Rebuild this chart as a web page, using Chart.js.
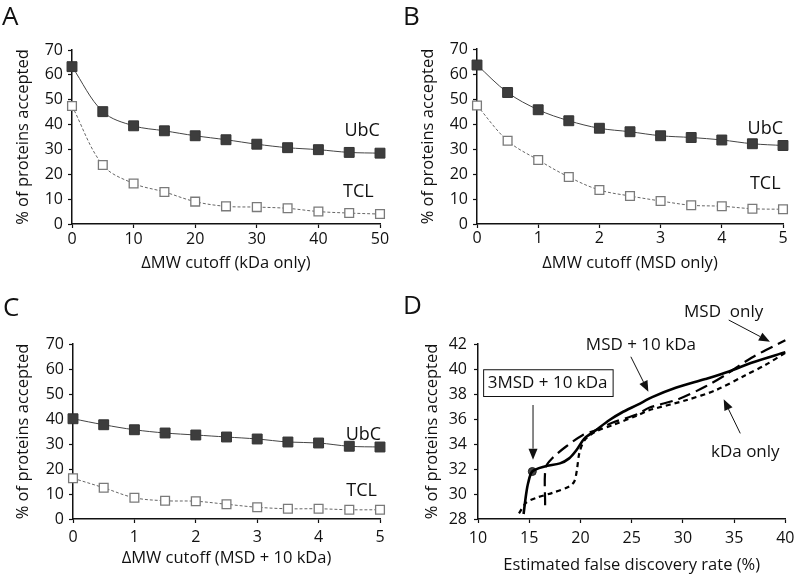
<!DOCTYPE html>
<html>
<head>
<meta charset="utf-8">
<script src="https://cdn.jsdelivr.net/npm/chart.js@4/dist/chart.umd.min.js"></script>
<style>
  body { margin: 0; background: #fff; }
  .panel { position: absolute; width: 400px; height: 290px; }
</style>
</head>
<body>
<div class="panel" style="left:0;top:0"><canvas id="chartA" width="400" height="290"></canvas></div>
<div class="panel" style="left:400px;top:0"><canvas id="chartB" width="400" height="290"></canvas></div>
<div class="panel" style="left:0;top:290px"><canvas id="chartC" width="400" height="290"></canvas></div>
<div class="panel" style="left:400px;top:290px"><canvas id="chartD" width="400" height="290"></canvas></div>
<script>
// ── Data ───────────────────────────────────────────────────────
const cutoffKda = [0, 5, 10, 15, 20, 25, 30, 35, 40, 45, 50];
const cutoffMsd = [0, 0.5, 1, 1.5, 2, 2.5, 3, 3.5, 4, 4.5, 5];

const ubcKdaOnly = [63.3, 45.2, 39.5, 37.5, 35.5, 33.9, 32.1, 30.7, 29.9, 28.8, 28.5];
const tclKdaOnly = [47.5, 23.7, 16.3, 12.9, 9.0, 7.1, 6.8, 6.3, 5.0, 4.4, 4.0];

const ubcMsdOnly = [63.6, 52.6, 45.7, 41.3, 38.3, 36.9, 35.3, 34.6, 33.6, 32.1, 31.4];
const tclMsdOnly = [47.4, 33.3, 25.6, 18.8, 13.6, 11.2, 9.2, 7.5, 7.1, 6.1, 5.9];

const ubcMsd10 = [40.1, 37.7, 35.7, 34.4, 33.6, 32.8, 32.0, 30.8, 30.4, 29.1, 28.8];
const tclMsd10 = [16.3, 12.5, 8.5, 7.3, 7.1, 5.9, 4.7, 4.1, 4.1, 3.7, 3.7];

// panel D: FDR (%) vs % accepted
const fdrMsd10 = [14.45, 14.7, 14.9, 15.3, 16.5, 18.0, 18.9, 19.6, 20.4, 21.5, 22.8, 24.0, 25.6, 27.0, 29.3, 32.2, 34.5, 36.7, 40];
const accMsd10 = [28.4, 30.0, 30.9, 31.8, 32.2, 32.45, 32.85, 33.5, 34.45, 35.1, 35.9, 36.5, 37.15, 37.75, 38.5, 39.2, 39.8, 40.5, 41.35];

const fdrMsdOnly = [16.55, 16.6, 17.3, 18.6, 20.2, 21.5, 23.1, 25.6, 26.7, 29.6, 32.2, 34.1, 36.7, 40];
const accMsdOnly = [29.1, 32.1, 32.9, 33.8, 34.7, 35.1, 35.7, 36.4, 36.9, 37.6, 38.6, 39.5, 40.9, 42.3];

const fdrKdaOnly = [14.0, 14.7, 15.7, 17.3, 18.9, 19.4, 19.65, 19.9, 20.4, 21.5, 23.1, 25.6, 26.7, 30.3, 33.2, 36.1, 38.0, 40];
const accKdaOnly = [28.45, 29.3, 29.7, 30.1, 30.6, 31.0, 31.9, 33.3, 34.3, 35.0, 35.5, 36.3, 36.7, 37.5, 38.3, 39.5, 40.3, 41.3];

const fdr3Msd = [15.3];
const acc3Msd = [31.8];

const FONT = "'Open Sans', sans-serif";

// ── Annotation plugin (panel letters, labels, arrows, boxes) ───
const notesPlugin = {
  id: 'notes',
  afterDraw(chart, args, o) {
    const { ctx } = chart;
    const sx = chart.scales.x, sy = chart.scales.y;
    const px = v => sx.getPixelForValue(v), py = v => sy.getPixelForValue(v);
    ctx.save();
    ctx.fillStyle = '#111';
    ctx.strokeStyle = '#111';
    ctx.font = `26px ${FONT}`;
    ctx.textAlign = 'left';
    ctx.textBaseline = 'alphabetic';
    ctx.fillText(o.letter, o.letterPos[0], o.letterPos[1]);

    (o.boxes || []).forEach(b => {
      const x1 = px(b.x1), x2 = px(b.x2), y1 = py(b.y1), y2 = py(b.y2);
      ctx.fillStyle = '#fff';
      ctx.fillRect(x1, y1, x2 - x1, y2 - y1);
      ctx.lineWidth = 1;
      ctx.strokeRect(x1 + 0.5, y1 + 0.5, x2 - x1, y2 - y1);
    });

    ctx.fillStyle = '#111';
    ctx.textAlign = 'center';
    ctx.textBaseline = 'middle';
    (o.texts || []).forEach(t => {
      ctx.font = `${t.size || 18}px ${FONT}`;
      ctx.fillText(t.text, px(t.x), py(t.y));
    });

    (o.arrows || []).forEach(a => {
      const x1 = px(a.x1), y1 = py(a.y1), x2 = px(a.x2), y2 = py(a.y2);
      const ang = Math.atan2(y2 - y1, x2 - x1);
      const hl = 11, hw = 4.5;
      const bx = x2 - hl * Math.cos(ang), by = y2 - hl * Math.sin(ang);
      ctx.lineWidth = 1;
      ctx.beginPath(); ctx.moveTo(x1, y1); ctx.lineTo(bx, by); ctx.stroke();
      ctx.beginPath();
      ctx.moveTo(x2, y2);
      ctx.lineTo(bx + hw * Math.sin(ang), by - hw * Math.cos(ang));
      ctx.lineTo(bx - hw * Math.sin(ang), by + hw * Math.cos(ang));
      ctx.closePath(); ctx.fill();
    });
    ctx.restore();
  }
};
Chart.register(notesPlugin);

// ── Helpers ────────────────────────────────────────────────────
function axis(min, max, step, title, box, tickPad, titlePad, isX) {
  return {
    type: 'linear', min, max,
    ticks: { stepSize: step, padding: tickPad, color: '#111', font: { family: FONT, size: 16 } },
    grid: { display: true, drawOnChartArea: false, drawTicks: true, tickLength: 4, color: '#111', tickWidth: 1.2 },
    border: { display: true, color: '#111', width: 1.5 },
    title: { display: true, text: title, color: '#111', font: { family: FONT, size: 16.5 }, padding: titlePad },
    afterFit: s => { if (isX) s.height = box; else s.width = box; }
  };
}

function ubcSet(xs, ys) {
  return {
    label: 'UbC', data: xs.map((x, i) => ({ x, y: ys[i] })), clip: false,
    borderColor: '#444', borderWidth: 1, tension: 0.35,
    pointStyle: 'rect', pointRadius: 7, pointBackgroundColor: '#3d3d3d',
    pointBorderColor: '#333', pointBorderWidth: 1
  };
}
function tclSet(xs, ys) {
  return {
    label: 'TCL', data: xs.map((x, i) => ({ x, y: ys[i] })), clip: false,
    borderColor: '#666', borderWidth: 1, borderDash: [3, 2], tension: 0.35,
    pointStyle: 'rect', pointRadius: 6.2, pointBackgroundColor: '#fff',
    pointBorderColor: '#7a7a7a', pointBorderWidth: 1.3
  };
}

function cutoffChart(id, xs, ubc, tcl, xMax, xStep, xTitle, area, notes) {
  return new Chart(document.getElementById(id), {
    type: 'line',
    data: { datasets: [tclSet(xs, tcl), ubcSet(xs, ubc)] },
    options: {
      responsive: false, animation: false,
      layout: { padding: { left: 0, top: area.top, right: 400 - area.right, bottom: 0 } },
      plugins: { legend: { display: false }, tooltip: { enabled: false }, notes },
      scales: {
        x: axis(0, xMax, xStep, xTitle, 290 - area.bottom, area.xTickPad, { top: 2, bottom: area.xTitlePad }, true),
        y: axis(0, 70, 10, '% of proteins accepted', area.left, 5, { top: area.yTitlePad, bottom: 2 }, false)
      }
    }
  });
}

// ── Panels A–C ─────────────────────────────────────────────────
cutoffChart('chartA', cutoffKda, ubcKdaOnly, tclKdaOnly, 50, 10, '\u0394MW cutoff (kDa only)',
  { left: 72, right: 380, top: 50, bottom: 224, xTickPad: 1.5, xTitlePad: 17, yTitlePad: 13 },
  { letter: 'A', letterPos: [2, 25],
    texts: [{ text: 'UbC', x: 47.1, y: 37.6 }, { text: 'TCL', x: 46.5, y: 12.9 }] });

cutoffChart('chartB', cutoffMsd, ubcMsdOnly, tclMsdOnly, 5, 1, '\u0394MW cutoff (MSD only)',
  { left: 77, right: 383, top: 49, bottom: 224, xTickPad: 1, xTitlePad: 17, yTitlePad: 18 },
  { letter: 'B', letterPos: [3, 25],
    texts: [{ text: 'UbC', x: 4.71, y: 38.2 }, { text: 'TCL', x: 4.71, y: 15.9 }] });

cutoffChart('chartC', cutoffMsd, ubcMsd10, tclMsd10, 5, 1, '\u0394MW cutoff (MSD + 10 kDa)',
  { left: 73, right: 380, top: 54, bottom: 229, xTickPad: 5, xTitlePad: 12, yTitlePad: 13 },
  { letter: 'C', letterPos: [3, 26],
    texts: [{ text: 'UbC', x: 4.73, y: 33.6 }, { text: 'TCL', x: 4.70, y: 11.1 }] });

// ── Panel D ────────────────────────────────────────────────────
const pts = (xs, ys) => xs.map((x, i) => ({ x, y: ys[i] }));
new Chart(document.getElementById('chartD'), {
  type: 'line',
  data: {
    datasets: [
      { label: 'kDa only', data: pts(fdrKdaOnly, accKdaOnly), clip: false, borderColor: '#000', borderWidth: 2.2, borderDash: [5, 4], pointRadius: 0, tension: 0.3 },
      { label: 'MSD only', data: pts(fdrMsdOnly, accMsdOnly), clip: false, borderColor: '#000', borderWidth: 2.2, borderDash: [13, 6], pointRadius: 0, tension: 0.3 },
      { label: 'MSD + 10 kDa', data: pts(fdrMsd10, accMsd10), clip: false, borderColor: '#000', borderWidth: 2.6, pointRadius: 0, tension: 0.3 },
      { label: '3MSD + 10 kDa', data: pts(fdr3Msd, acc3Msd), showLine: false, pointRadius: 4, pointBackgroundColor: '#444', pointBorderColor: '#222' }
    ]
  },
  options: {
    responsive: false, animation: false,
    layout: { padding: { left: 0, top: 54, right: 13, bottom: 0 } },
    plugins: {
      legend: { display: false }, tooltip: { enabled: false },
      notes: {
        letter: 'D', letterPos: [3, 24],
        boxes: [{ x1: 10.5, y1: 39.98, x2: 23.14, y2: 37.84 }],
        texts: [
          { text: 'MSD  only', x: 33.98, y: 44.58, size: 17 },
          { text: 'MSD + 10 kDa', x: 25.9, y: 41.92, size: 17 },
          { text: 'kDa only', x: 36.09, y: 33.38, size: 17 },
          { text: '3MSD + 10 kDa', x: 16.8, y: 38.9, size: 17 }
        ],
        arrows: [
          { x1: 34.47, y1: 43.92, x2: 38.5, y2: 42.18 },
          { x1: 24.92, y1: 40.98, x2: 26.63, y2: 38.18 },
          { x1: 35.6, y1: 34.85, x2: 33.98, y2: 37.58 },
          { x1: 15.37, y1: 37.12, x2: 15.37, y2: 32.75 }
        ]
      }
    },
    scales: {
      x: axis(10, 40, 5, 'Estimated false discovery rate (%)', 61, 5.5, { top: 2, bottom: 5 }, true),
      y: axis(28, 42, 2, '% of proteins accepted', 78, 7, { top: 22, bottom: 2 }, false)
    }
  }
});
</script>
</body>
</html>
